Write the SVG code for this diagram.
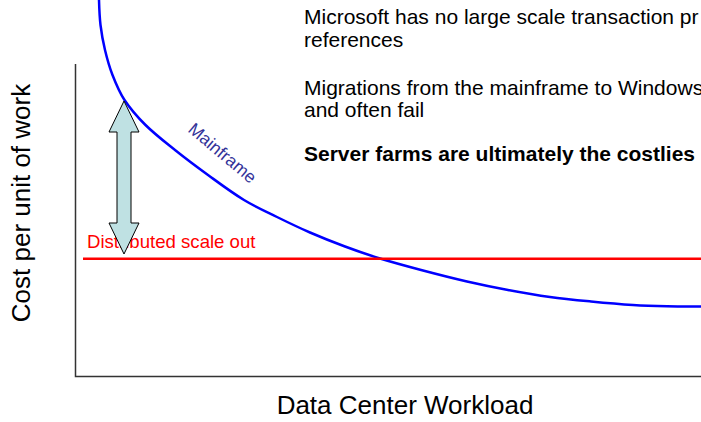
<svg xmlns="http://www.w3.org/2000/svg" width="701" height="422" viewBox="0 0 701 422">
  <style>
    text { font-family: "Liberation Sans", Arial, sans-serif; }
    .note { font-size: 21px; fill: #000; }
    .note-bold { font-size: 21px; font-weight: bold; fill: #000; }
    .axis-title { font-size: 26px; fill: #000; }
    .axis { stroke: #333; stroke-width: 1.5; fill: none; }
  </style>
  <rect width="701" height="422" fill="#fff"/>

  <!-- axes -->
  <g id="axes">
    <path class="axis" d="M75.5,64 V376.5 H701"/>
  </g>

  <!-- axis titles -->
  <g id="y-title">
    <text class="axis-title" text-anchor="middle" transform="translate(30,203) rotate(-90)">Cost per unit of work</text>
  </g>
  <g id="x-title">
    <text class="axis-title" x="405" y="414" text-anchor="middle">Data Center Workload</text>
  </g>

  <!-- commentary -->
  <g id="notes">
    <text class="note" x="304" y="24">Microsoft has no large scale transaction pr</text>
    <text class="note" x="304" y="47">references</text>
    <text class="note" x="304" y="95">Migrations from the mainframe to Windows</text>
    <text class="note" x="304" y="117">and often fail</text>
    <text class="note-bold" x="304" y="161">Server farms are ultimately the costlies</text>
  </g>

  <!-- cost curves -->
  <g id="curves">
    <path id="mainframe-curve" fill="none" stroke="#0000ff" stroke-width="2.5"
      d="M99,0 C99.25,8.35 99.51,16.71 100.5,25 C101.51,33.41 103.03,41.77 105,50 C107.03,58.46 109.34,66.89 112.5,75 C115.85,83.61 119.41,92.28 124.5,100 C130.5,109.08 137.76,117.34 145.5,125 C154.66,134.07 164.93,141.94 175,150 C185.78,158.63 196.82,166.9 208,175 C219.83,183.58 231.52,192.4 244,200 C254.56,206.43 265.9,211.53 277,217 C287.9,222.37 298.86,227.66 310,232.5 C321.53,237.5 333.22,242.13 345,246.5 C356.55,250.79 368.21,254.87 380,258.5 C394.23,262.87 408.61,266.69 423,270.5 C437.62,274.37 452.26,278.11 467,281.5 C480.72,284.63 494.28,287.43 508,290 C521.95,292.61 535.94,295.06 550,297 C563.63,298.88 577.32,300.18 591,301.5 C604.98,302.85 618.98,304.11 633,305 C644.32,305.71 655.66,306.05 667,306.3 C678.33,306.55 689.67,306.47 701,306.5"/>
    <line id="scale-out-line" x1="83" y1="258.7" x2="701" y2="258.7" stroke="#ff0000" stroke-width="2.5"/>
  </g>

  <!-- curve labels -->
  <g id="mainframe-label">
    <text font-size="17.5" fill="#333399" transform="translate(187,131) rotate(40)">Mainframe</text>
  </g>
  <g id="scale-out-label">
    <text font-size="18.6" fill="#ff0000" x="87" y="248">Distributed scale out</text>
  </g>

  <!-- cost gap arrow -->
  <g id="gap-arrow">
    <polygon points="124,101 139,132 131,132 131,223 139,223 124,254 109,223 117,223 117,132 109,132"
      fill="#bfe1e3" stroke="#000" stroke-width="1" stroke-linejoin="miter"/>
  </g>
</svg>
